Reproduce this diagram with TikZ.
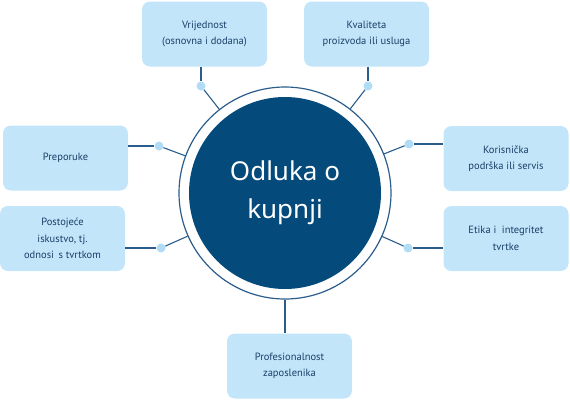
\documentclass[tikz,border=0pt]{standalone}
\usepackage{fontspec}
\newfontfamily\boxfont{PT Sans}
\newfontfamily\centerfont{Noto Sans}
\definecolor{boxfill}{HTML}{C2E5F9}
\definecolor{boxtext}{HTML}{183F68}
\definecolor{navy}{HTML}{044A7B}
\definecolor{linecol}{HTML}{2A5D8C}
\definecolor{dotfill}{HTML}{B0DDF5}
\tikzset{
  infobox/.style={fill=boxfill, rounded corners=8pt, minimum width=125pt, minimum height=65pt,
    align=center, text=boxtext, font=\boxfont\fontsize{10.5pt}{16.5pt}\selectfont, inner sep=0pt},
  dotnode/.style={circle, fill=dotfill, minimum size=9pt, inner sep=0pt},
  conn/.style={draw=linecol, line width=1.1pt}
}
\begin{document}
\begin{tikzpicture}[x=1pt,y=-1pt]
\useasboundingbox (0,0) rectangle (570,400);
% central circle
\node[circle, draw=linecol, line width=1.2pt, fill=white, minimum size=212pt, inner sep=0pt] (ring) at (285,193) {};
\node[circle, fill=navy, minimum size=192pt, inner sep=0pt, align=center, text=white,
  font=\centerfont\fontsize{26pt}{38pt}\selectfont] (core) at (285,193) {Odluka o\\kupnji};
% boxes
\node[infobox] (v) at (204.5,34) {Vrijednost\\(osnovna i dodana)};
\node[infobox] (k) at (366.5,34) {Kvaliteta\\proizvoda ili usluga};
\node[infobox] (pr) at (65.5,158) {Preporuke};
\node[infobox] (po) at (62.5,238.5) {Postojeće\\iskustvo, tj.\\odnosi \,s tvrtkom};
\node[infobox] (ko) at (506,158.5) {Korisnička\\podrška ili servis};
\node[infobox] (et) at (506,238.5) {Etika i \ integritet\\tvrtke\hspace{22pt}};
\node[infobox] (pf) at (289.5,366) {Profesionalnost\\zaposlenika};
% dots
\node[dotnode] (vd) at (201,86) {};
\node[dotnode] (kd) at (368,86) {};
\node[dotnode] (prd) at (159,146) {};
\node[dotnode] (pod) at (161,248) {};
\node[dotnode] (kod) at (409,144) {};
\node[dotnode] (etd) at (408,248) {};
% connectors
\draw[conn] (v.south -| vd) -- (vd);
\draw[conn] (vd) -- (ring);
\draw[conn] (k.south -| kd) -- (kd);
\draw[conn] (kd) -- (ring);
\draw[conn] (pr.east |- prd) -- (prd);
\draw[conn] (prd) -- (ring);
\draw[conn] (po.east |- pod) -- (pod);
\draw[conn] (pod) -- (ring);
\draw[conn] (ko.west |- kod) -- (kod);
\draw[conn] (kod) -- (ring);
\draw[conn] (et.west |- etd) -- (etd);
\draw[conn] (etd) -- (ring);
\draw[conn] (ring.south) -- (ring.south |- pf.north);
\end{tikzpicture}
\end{document}
